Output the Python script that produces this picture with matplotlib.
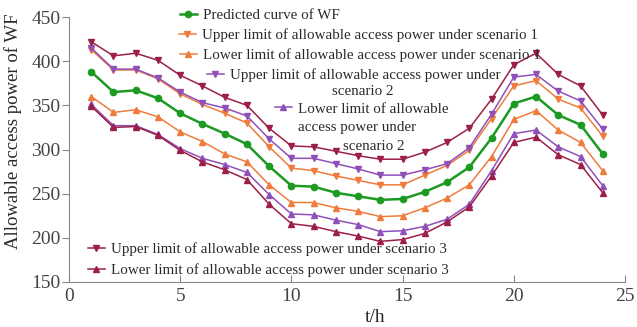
import numpy as np
import matplotlib.pyplot as plt

plt.rcParams['font.family'] = ['Liberation Serif', 'DejaVu Serif']

hours = np.arange(1, 25)

wf_pred = [388, 365, 367, 358, 341, 329, 318, 306, 281, 259, 258, 251,
           247, 243, 244, 252, 263, 280, 313, 352, 360, 339, 328, 295]
s1_upper = [413, 390, 390, 380, 363, 351, 341, 330, 303, 279, 276, 270,
            265, 260, 260, 271, 282, 299, 335, 372, 378, 357, 347, 315]
s1_lower = [360, 342, 345, 337, 320, 309, 295, 286, 260, 240, 240, 234,
            230, 224, 225, 234, 245, 260, 292, 334, 344, 322, 308, 276]
s2_upper = [415, 391, 391, 381, 365, 353, 347, 338, 312, 290, 290, 284,
            278, 271, 271, 277, 284, 302, 340, 382, 385, 366, 355, 323]
s2_lower = [351, 327, 327, 317, 301, 290, 283, 274, 249, 227, 226, 220,
            215, 207, 208, 213, 221, 238, 276, 318, 322, 303, 292, 259]
s3_upper = [422, 406, 409, 401, 384, 372, 359, 350, 324, 304, 303, 298,
            293, 289, 289, 297, 308, 324, 357, 396, 409, 385, 372, 339]
s3_lower = [349, 325, 326, 316, 299, 286, 277, 266, 238, 216, 213, 207,
            202, 196, 198, 205, 218, 235, 270, 308, 314, 294, 283, 251]

green = '#1c9a22'
orange = '#ef7c3c'
purple = '#9050ba'
red = '#9c1f48'
txt = '#2a2a2a'

W, H = 637, 327
fig = plt.figure(figsize=(W / 100, H / 100), dpi=100)
ax = fig.add_axes([69 / W, 1 - 282 / H, 556 / W, 265 / H])

series = [
    (wf_pred, green, 'o', 1.8, 'Predicted curve of WF'),
    (s1_upper, orange, 'v', 1.1, 'Upper limit of allowable access power under scenario 1'),
    (s1_lower, orange, '^', 1.1, 'Lower limit of allowable access power under scenario 1'),
    (s2_upper, purple, 'v', 1.1, 'Upper limit of allowable access power under'),
    (s2_lower, purple, '^', 1.1, 'Lower limit of allowable'),
    (s3_upper, red, 'v', 1.1, 'Upper limit of allowable access power under scenario 3'),
    (s3_lower, red, '^', 1.1, 'Lower limit of allowable access power under scenario 3'),
]

lines = []
for vals, col, mk, lw, lab in series:
    ln, = ax.plot(hours, vals, color=col, marker=mk, lw=lw,
                  markersize=4 if mk != 'o' else 4.5, label=lab)
    lines.append(ln)

ax.set_xlim(0, 25)
ax.set_ylim(150, 450)
ax.set_xticks([0, 5, 10, 15, 20, 25])
ax.set_yticks([150, 200, 250, 300, 350, 400, 450])
for s in ['top', 'right']:
    ax.spines[s].set_visible(False)
for s in ['left', 'bottom']:
    ax.spines[s].set_color('#8a8a8a')
ax.tick_params(axis='x', direction='in', length=5, color='#8a8a8a',
               labelsize=14, labelcolor='#444444', pad=4)
ax.tick_params(axis='y', direction='out', length=5, color='#8a8a8a',
               labelsize=14, labelcolor='#444444', pad=1)

ax.set_xlabel('t/h', fontsize=14, color=txt)
ax.xaxis.set_label_coords(0.55, -0.1)
ax.set_ylabel('Allowable access power of WF', fontsize=13.5, color=txt)
ax.yaxis.set_label_coords(-0.085, 0.57)

# staggered single-entry legends (figure pixel anchors: marker left, line centre)
anchors = [(180, 15), (179, 35), (180, 55), (207, 75), (275, 109), (88, 249), (88, 270)]
for ln, (px, py) in zip(lines, anchors):
    leg = fig.legend(handles=[ln], loc='center left',
                     bbox_to_anchor=(px / W, 1 - py / H),
                     frameon=False, fontsize=10.8, handlelength=1.1,
                     handletextpad=0.45, borderpad=0, borderaxespad=0)
    for t in leg.get_texts():
        t.set_color(txt)

# continuation lines of the wrapped legend labels
extra = [('scenario 2', 363, 92), ('access power under', 357, 128), ('scenario 2', 374, 146)]
for s, px, py in extra:
    fig.text(px / W, 1 - py / H, s, ha='center', va='center', fontsize=10.8, color=txt)

fig.savefig('out.png', dpi=100)
